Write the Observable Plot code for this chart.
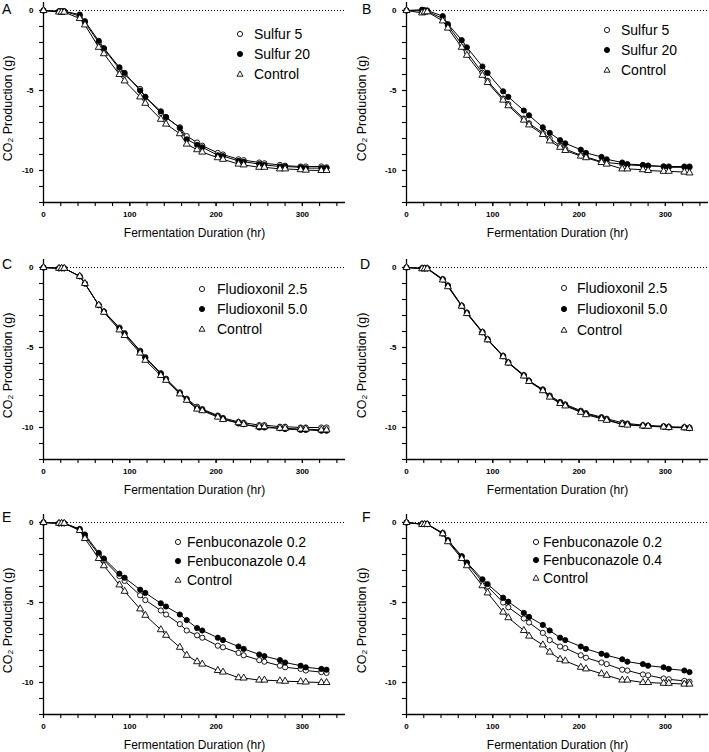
<!DOCTYPE html>
<html><head><meta charset="utf-8">
<script src="https://cdn.jsdelivr.net/npm/d3@7"></script>
<script src="https://cdn.jsdelivr.net/npm/@observablehq/plot@0.6"></script>
<style>
html,body{margin:0;padding:0;background:#fff}
body{width:709px;height:752px;overflow:hidden;position:relative;font-family:"Liberation Sans",Arial,sans-serif;color:#000}
.panel{position:absolute}
.letter{position:absolute;font-size:14px;line-height:14px}
.lg{position:absolute;font-size:14px;line-height:16px;white-space:nowrap}
.sym{position:absolute}
</style></head><body>
<script>
// Sampling times (hr)
const hours = [0,18,21,24,42,48,64,70,88,94,112,118,136,142,158,166,178,184,202,208,226,232,250,256,274,280,298,304,322,328];

// Panel A
const sulfur5A  = [0,-0.05,-0.05,-0.05,-0.35,-0.75,-2.0,-2.4,-3.65,-4.0,-4.9,-5.4,-6.4,-6.7,-7.3,-7.85,-8.25,-8.45,-8.9,-9.0,-9.3,-9.35,-9.5,-9.55,-9.65,-9.7,-9.75,-9.75,-9.75,-9.8];
const sulfur20A = [0,-0.05,-0.05,-0.05,-0.25,-0.67,-1.9,-2.35,-3.55,-3.9,-5.0,-5.4,-6.3,-6.65,-7.35,-8.05,-8.4,-8.55,-9.05,-9.1,-9.4,-9.45,-9.6,-9.65,-9.75,-9.75,-9.8,-9.85,-9.85,-9.85];
const controlA  = [0,-0.1,-0.1,-0.1,-0.5,-0.9,-2.3,-2.7,-4.0,-4.4,-5.4,-5.8,-6.8,-7.1,-7.7,-8.35,-8.7,-8.85,-9.2,-9.3,-9.6,-9.65,-9.8,-9.8,-9.9,-9.9,-9.95,-9.98,-10.0,-10.0];

// Panel B
const sulfur5B  = [0,-0.02,-0.05,-0.05,-0.5,-0.95,-2.1,-2.6,-3.9,-4.4,-5.5,-5.85,-6.75,-7.05,-7.65,-8.0,-8.45,-8.65,-9.05,-9.15,-9.45,-9.5,-9.6,-9.65,-9.7,-9.7,-9.75,-9.8,-9.8,-9.8];
const sulfur20B = [0,0.05,0.02,0,-0.35,-0.85,-1.85,-2.3,-3.5,-3.9,-5.05,-5.4,-6.25,-6.55,-7.3,-7.65,-8.1,-8.3,-8.7,-8.9,-9.15,-9.3,-9.5,-9.6,-9.65,-9.7,-9.75,-9.75,-9.75,-9.75];
const controlB  = [0,-0.15,-0.1,-0.08,-0.65,-1.1,-2.3,-2.8,-4.05,-4.5,-5.6,-5.95,-6.85,-7.15,-7.75,-8.15,-8.55,-8.75,-9.1,-9.2,-9.5,-9.6,-9.9,-9.9,-9.95,-10.0,-10.05,-10.05,-10.1,-10.15];

// Panel C
const fludio25C = [0,-0.05,-0.05,-0.05,-0.55,-1.0,-2.35,-2.75,-3.75,-4.1,-5.2,-5.6,-6.6,-6.95,-7.8,-8.2,-8.7,-8.85,-9.25,-9.4,-9.65,-9.7,-9.85,-9.85,-9.95,-9.95,-10.0,-10.0,-10.0,-10.0];
const fludio50C = [0,-0.05,-0.05,-0.05,-0.55,-1.0,-2.35,-2.75,-3.8,-4.15,-5.25,-5.65,-6.65,-7.0,-7.85,-8.25,-8.8,-8.9,-9.3,-9.45,-9.75,-9.8,-10.0,-10.0,-10.05,-10.1,-10.15,-10.15,-10.2,-10.2];
const controlC  = [0,-0.05,-0.05,-0.05,-0.55,-1.0,-2.35,-2.8,-3.9,-4.25,-5.35,-5.8,-6.75,-7.05,-7.9,-8.3,-8.85,-8.95,-9.35,-9.5,-9.7,-9.8,-9.95,-9.95,-10.05,-10.05,-10.1,-10.1,-10.15,-10.15];

// Panel D
const fludio25D = [0,-0.05,-0.05,-0.05,-0.72,-1.12,-2.38,-2.82,-4.02,-4.48,-5.52,-5.92,-6.72,-7.08,-7.62,-8.0,-8.4,-8.55,-8.95,-9.1,-9.35,-9.45,-9.7,-9.75,-9.85,-9.88,-9.92,-9.95,-9.98,-10.0];
const fludio50D = [0,-0.05,-0.05,-0.05,-0.75,-1.15,-2.4,-2.85,-4.05,-4.5,-5.55,-5.95,-6.75,-7.1,-7.65,-8.05,-8.45,-8.6,-9.0,-9.15,-9.4,-9.5,-9.8,-9.8,-9.9,-9.9,-9.95,-10.0,-10.0,-10.05];
const controlD  = [0,-0.08,-0.08,-0.08,-0.78,-1.2,-2.42,-2.88,-4.07,-4.52,-5.57,-5.97,-6.78,-7.12,-7.7,-8.1,-8.5,-8.65,-9.05,-9.2,-9.45,-9.55,-9.8,-9.85,-9.9,-9.92,-9.97,-10.0,-10.02,-10.05];

// Panel E
const fenbu02E  = [0,-0.05,-0.05,-0.05,-0.45,-0.85,-2.0,-2.35,-3.35,-3.65,-4.55,-4.85,-5.5,-5.75,-6.35,-6.75,-7.05,-7.2,-7.7,-7.8,-8.15,-8.3,-8.6,-8.7,-8.95,-9.05,-9.15,-9.25,-9.35,-9.4];
const fenbu04E  = [0,-0.05,-0.05,-0.05,-0.4,-0.75,-1.9,-2.25,-3.2,-3.45,-4.2,-4.4,-5.05,-5.25,-5.75,-6.1,-6.6,-6.75,-7.2,-7.35,-7.75,-7.9,-8.25,-8.35,-8.6,-8.75,-8.95,-9.05,-9.15,-9.2];
const controlE  = [0,-0.05,-0.05,-0.05,-0.5,-1.0,-2.25,-2.7,-3.9,-4.3,-5.4,-5.8,-6.7,-7.05,-7.8,-8.3,-8.7,-8.85,-9.25,-9.35,-9.7,-9.72,-9.85,-9.85,-9.9,-9.92,-9.95,-9.97,-10.0,-10.0];

// Panel F
const fenbu02F  = [0,-0.1,-0.1,-0.1,-0.7,-1.15,-2.15,-2.55,-3.7,-4.0,-5.0,-5.3,-6.0,-6.25,-6.9,-7.35,-7.75,-7.85,-8.3,-8.45,-8.75,-8.85,-9.2,-9.25,-9.5,-9.55,-9.75,-9.8,-9.9,-9.95];
const fenbu04F  = [0,-0.1,-0.1,-0.1,-0.65,-1.1,-2.1,-2.5,-3.55,-3.85,-4.7,-4.95,-5.65,-5.9,-6.4,-6.75,-7.2,-7.35,-7.75,-7.9,-8.2,-8.3,-8.55,-8.7,-8.85,-8.95,-9.05,-9.15,-9.25,-9.35];
const controlF  = [0,-0.12,-0.12,-0.12,-0.7,-1.2,-2.25,-2.7,-3.95,-4.4,-5.6,-5.95,-6.75,-7.1,-7.65,-8.1,-8.55,-8.65,-9.05,-9.15,-9.45,-9.55,-9.85,-9.85,-10.0,-10.0,-10.05,-10.05,-10.1,-10.1];

// Labels
const panelLetters = ["A","B","C","D","E","F"];
const sulfurNames = ["Sulfur 5","Sulfur 20","Control"];
const fludioNames = ["Fludioxonil 2.5","Fludioxonil 5.0","Control"];
const fenbuNames  = ["Fenbuconazole 0.2","Fenbuconazole 0.4","Control"];
const xTicks = [0,100,200,300];
const yTicks = [0,-5,-10];
const xTitle = "Fermentation Duration (hr)";
const yTitle = "CO₂ Production (g)";

// series styles: open circle, filled circle, open triangle
const styles = [
  {symbol:"circle", fill:"white"},
  {symbol:"circle", fill:"black"},
  {symbol:"triangle", fill:"white"}
];

const FONT = "'Liberation Sans', Arial, sans-serif";
const H = 248, MT = 4, MB = 44;

const panels = [
  {letter:0, names:sulfurNames, data:[sulfur5A,sulfur20A,controlA], left:0,   top:-2,  w:354, ml:43, legend:{sx:240, tx:254, y:[34,54,74]}},
  {letter:1, names:sulfurNames, data:[sulfur5B,sulfur20B,controlB], left:354, top:-2,  w:355, ml:52, legend:{sx:607, tx:621, y:[30,50,70]}},
  {letter:2, names:fludioNames, data:[fludio25C,fludio50C,controlC], left:0,  top:255, w:354, ml:43, legend:{sx:202, tx:217, y:[289,309,329]}},
  {letter:3, names:fludioNames, data:[fludio25D,fludio50D,controlD], left:354,top:255, w:355, ml:52, legend:{sx:564, tx:577, y:[288,309,330]}},
  {letter:4, names:fenbuNames,  data:[fenbu02E,fenbu04E,controlE],   left:0,  top:510, w:354, ml:43, legend:{sx:178, tx:187, y:[542,561,580]}},
  {letter:5, names:fenbuNames,  data:[fenbu02F,fenbu04F,controlF],   left:354,top:510, w:355, ml:52, legend:{sx:536, tx:543, y:[542,560,578]}}
];
const letterPos = [[2,2],[362,2],[2,257],[360,257],[2,510],[362,510]];

function symbolSvg(st) {
  const ns = "http://www.w3.org/2000/svg";
  const svg = document.createElementNS(ns, "svg");
  svg.setAttribute("width", 10); svg.setAttribute("height", 10);
  svg.setAttribute("class","sym");
  if (st.symbol === "circle") {
    const c = document.createElementNS(ns, "circle");
    c.setAttribute("cx",5); c.setAttribute("cy",5); c.setAttribute("r",2.6);
    c.setAttribute("fill", st.fill); c.setAttribute("stroke","black"); c.setAttribute("stroke-width",0.9);
    svg.appendChild(c);
  } else {
    const p = document.createElementNS(ns, "path");
    p.setAttribute("d","M5,2 L8,7.2 L2,7.2 Z");
    p.setAttribute("fill", st.fill); p.setAttribute("stroke","black"); p.setAttribute("stroke-width",0.9);
    svg.appendChild(p);
  }
  return svg;
}

panels.forEach((p, pi) => {
  const seriesRows = p.data.map((vals, si) => hours.map((h, i) => ({hr:h, co2:vals[i], name:p.names[si]})));
  const allRows = seriesRows.flat();
  const chart = Plot.plot({
    width: p.w, height: H,
    marginLeft: p.ml, marginRight: p.w - p.ml - 302, marginTop: MT, marginBottom: MB,
    x: {domain:[0,350]},
    y: {domain:[-12,0.5]},
    style: {fontFamily: FONT, background:"white", color:"black", overflow:"visible"},
    marks: [
      Plot.ruleY([0], {stroke:"black", strokeWidth:1, strokeDasharray:"1,2"}),
      Plot.axisX(d3.range(0, 341, 20), {tickSize:4, tickFormat:() => "", label:null, strokeWidth:1.1}),
      Plot.axisX(xTicks, {tickSize:4, tickPadding:5, tickFormat:d => String(d), label:null, fontSize:8, fontWeight:"bold", strokeWidth:1.1}),
      Plot.axisY(d3.range(-12, 1, 1), {tickSize:4, tickFormat:() => "", label:null, strokeWidth:1.1}),
      Plot.axisY(yTicks, {tickSize:4, tickPadding:6, tickFormat:d => String(d), label:null, fontSize:8, fontWeight:"bold", strokeWidth:1.1}),
      Plot.ruleX([0], {stroke:"black", strokeWidth:1.3}),
      Plot.ruleY([-12], {stroke:"black", strokeWidth:1.3}),
      Plot.line(allRows, {x:"hr", y:"co2", z:"name", stroke:"black", strokeWidth:1}),
      ...seriesRows.map((rows, si) => Plot.dot(rows, {x:"hr", y:"co2", r:2.6, symbol:styles[si].symbol, fill:styles[si].fill, stroke:"black", strokeWidth:0.9})),
      Plot.text([xTitle], {text:d => d, frameAnchor:"bottom", textAnchor:"middle", dy:34, fontSize:12, fill:"black"}),
      Plot.text([yTitle], {text:d => d, frameAnchor:"left", textAnchor:"middle", rotate:-90, dx:(pi % 2 ? -45 : -36), dy:6, fontSize:12.5, fill:"black"})
    ]
  });
  chart.classList.add("panel");
  chart.style.left = p.left + "px";
  chart.style.top = p.top + "px";
  document.body.appendChild(chart);

  const L = document.createElement("div");
  L.className = "letter";
  L.textContent = panelLetters[p.letter];
  L.style.left = letterPos[pi][0] + "px";
  L.style.top = letterPos[pi][1] + "px";
  document.body.appendChild(L);

  p.names.forEach((nm, si) => {
    const s = symbolSvg(styles[si]);
    s.style.left = (p.legend.sx - 5) + "px";
    s.style.top = (p.legend.y[si] - 5) + "px";
    document.body.appendChild(s);
    const t = document.createElement("div");
    t.className = "lg";
    t.textContent = nm;
    t.style.left = p.legend.tx + "px";
    t.style.top = (p.legend.y[si] - 8) + "px";
    document.body.appendChild(t);
  });
});
</script>
</body></html>
